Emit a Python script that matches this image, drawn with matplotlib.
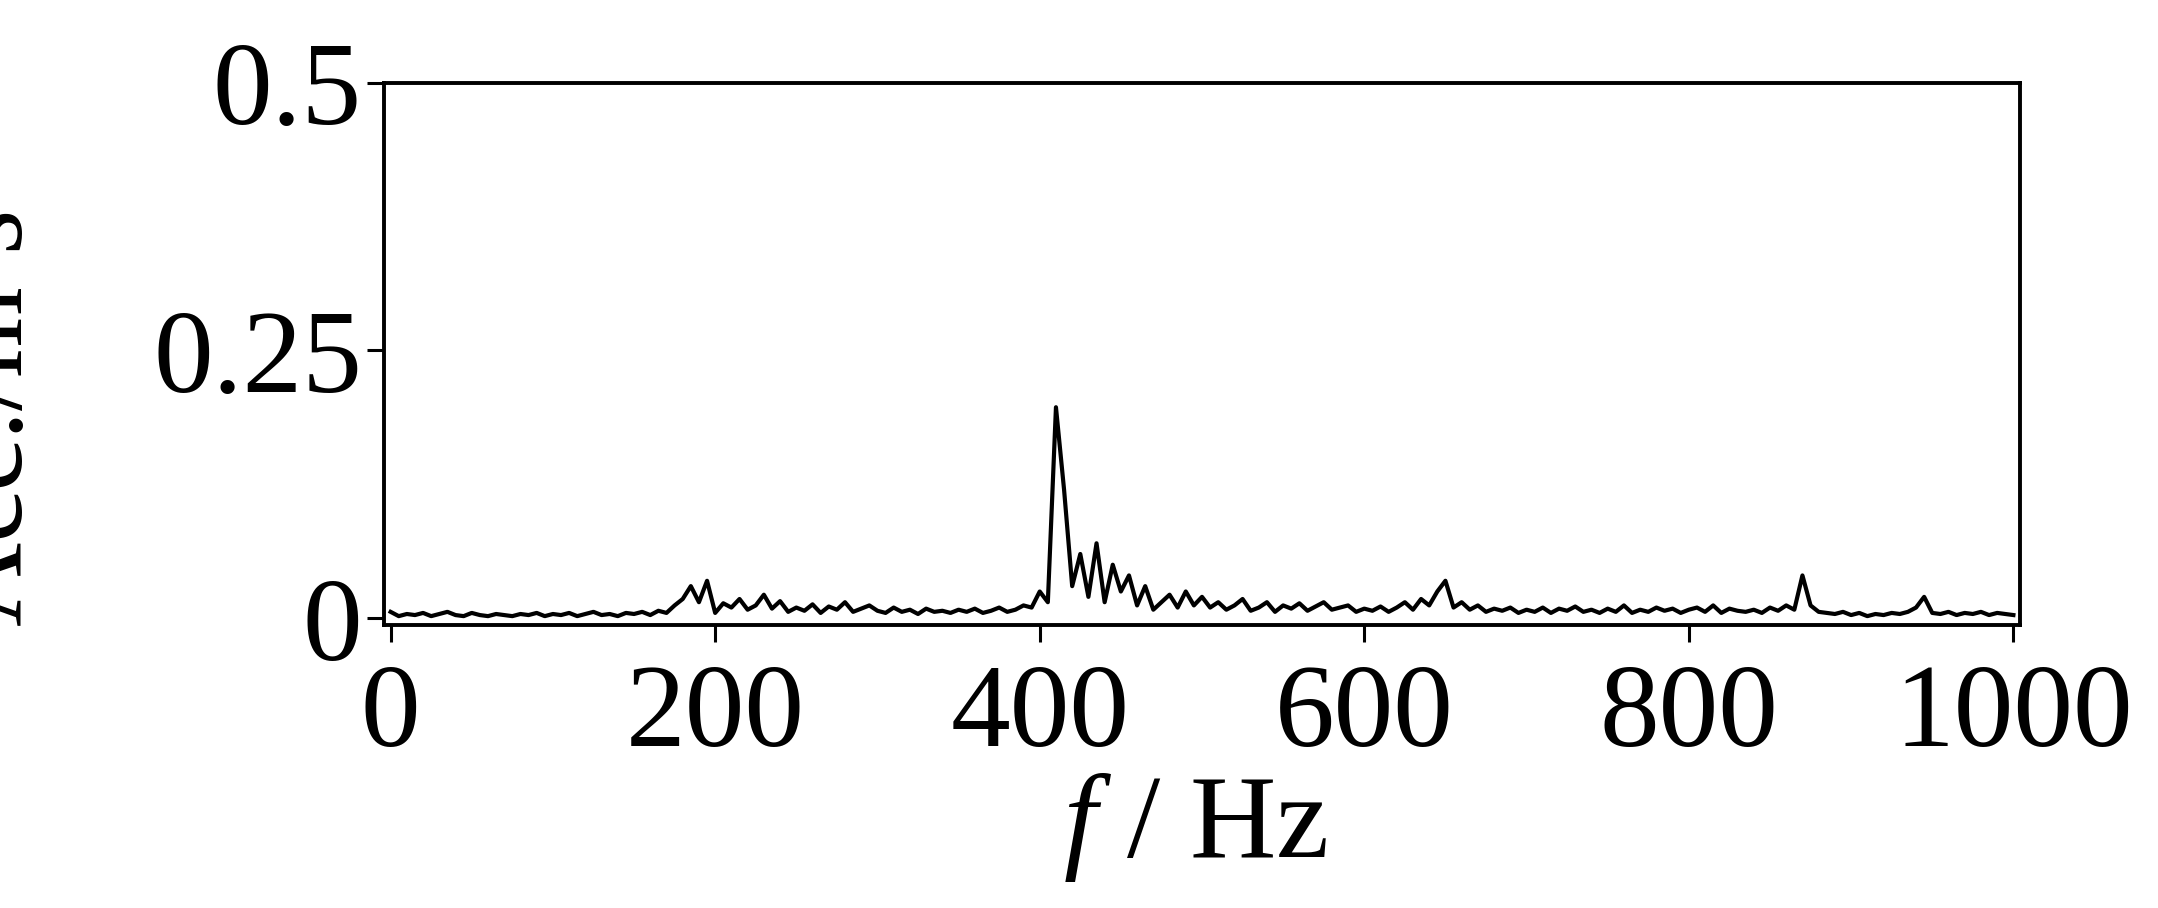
import numpy as np
import matplotlib
matplotlib.use("Agg")
import matplotlib.pyplot as plt

plt.rcParams['font.family'] = ['Liberation Serif', 'DejaVu Serif']
plt.rcParams['mathtext.fontset'] = 'custom'
plt.rcParams['mathtext.rm'] = 'Liberation Serif'
plt.rcParams['mathtext.it'] = 'Liberation Serif:italic'

# spectrum, 5 Hz steps from 0 to 1000 Hz
freq_hz = np.arange(0, 1001, 5)
acc = [
    0.006, 0.002, 0.004, 0.003, 0.005, 0.002, 0.004, 0.006, 0.003, 0.002,
    0.005, 0.003, 0.002, 0.004, 0.003, 0.002, 0.004, 0.003, 0.005, 0.002,
    0.004, 0.003, 0.005, 0.002, 0.004, 0.006, 0.003, 0.004, 0.002, 0.005,
    0.004, 0.006, 0.003, 0.007, 0.005, 0.012, 0.018, 0.030, 0.015, 0.035,
    0.005, 0.014, 0.010, 0.018, 0.008, 0.012, 0.022, 0.009, 0.016, 0.006,
    0.010, 0.007, 0.013, 0.005, 0.011, 0.008, 0.015, 0.006, 0.009, 0.012,
    0.007, 0.005, 0.010, 0.006, 0.008, 0.004, 0.009, 0.006, 0.007, 0.005,
    0.008, 0.006, 0.009, 0.005, 0.007, 0.010, 0.006, 0.008, 0.012, 0.010,
    0.025, 0.015, 0.197, 0.120, 0.030, 0.060, 0.020, 0.070, 0.015, 0.050,
    0.025, 0.040, 0.012, 0.030, 0.008, 0.015, 0.022, 0.010, 0.025, 0.012,
    0.020, 0.010, 0.015, 0.008, 0.012, 0.018, 0.007, 0.010, 0.015, 0.006,
    0.012, 0.009, 0.014, 0.007, 0.011, 0.015, 0.008, 0.010, 0.012, 0.006,
    0.009, 0.007, 0.011, 0.006, 0.010, 0.015, 0.008, 0.018, 0.012, 0.025,
    0.035, 0.010, 0.015, 0.008, 0.012, 0.006, 0.009, 0.007, 0.010, 0.005,
    0.008, 0.006, 0.010, 0.005, 0.009, 0.007, 0.011, 0.006, 0.008, 0.005,
    0.009, 0.006, 0.012, 0.005, 0.008, 0.006, 0.010, 0.007, 0.009, 0.005,
    0.008, 0.010, 0.006, 0.012, 0.005, 0.009, 0.007, 0.006, 0.008, 0.005,
    0.010, 0.007, 0.012, 0.008, 0.040, 0.012, 0.006, 0.005, 0.004, 0.006,
    0.003, 0.005, 0.002, 0.004, 0.003, 0.005, 0.004, 0.006, 0.010, 0.020,
    0.005, 0.004, 0.006, 0.003, 0.005, 0.004, 0.006, 0.003, 0.005, 0.004, 0.003,
]
x_ticks = [0, 200, 400, 600, 800, 1000]
y_ticks = [0, 0.25, 0.5]
y_tick_labels = ["0", "0.25", "0.5"]

fig = plt.figure(figsize=(21.58, 9.08), dpi=100)
ax = fig.add_axes([0.178, 0.312, 0.758, 0.597])
ax.plot(freq_hz, acc, color='k', lw=3)

ax.set_xlim(-4, 1004)
ax.set_ylim(-0.006, 0.5)
ax.set_xticks(x_ticks)
ax.set_yticks(y_ticks)
ax.set_yticklabels(y_tick_labels)
ax.tick_params(direction='out', length=12, width=2.2, labelsize=86, pad=4)
ax.tick_params(axis='x', pad=16)
for s in ax.spines.values():
    s.set_linewidth(2.8)

ax.set_ylabel(r"Acc./m$\cdot$s$^{-2}$", fontsize=84)
ax.yaxis.set_label_coords(-0.206, 0.46)
ax.set_xlabel(r"$f$ / Hz", fontsize=86)
ax.xaxis.set_label_coords(0.496, -0.27)

fig.savefig("out.png", dpi=100)
